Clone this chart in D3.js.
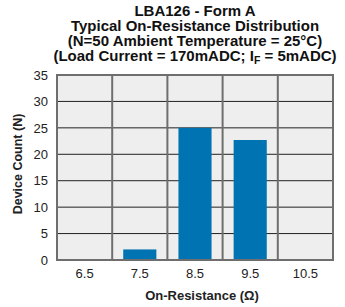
<!DOCTYPE html>
<html>
<head>
<meta charset="utf-8">
<script src="https://cdn.jsdelivr.net/npm/d3@7"></script>
<style>
  body { margin: 0; background: #fff; }
  text { font-family: "Liberation Sans", Arial, sans-serif; }
</style>
</head>
<body>
<div id="chart"></div>
<script>
var categories = ["6.5", "7.5", "8.5", "9.5", "10.5"];
var counts = [0, 2, 25, 22.7, 0];
var yTicks = [0, 5, 10, 15, 20, 25, 30, 35];

var width = 345, height = 307;
var margin = {top: 75, right: 12, bottom: 47, left: 57};

var svg = d3.select("#chart").append("svg")
    .attr("width", width)
    .attr("height", height);

var x = d3.scaleBand()
    .domain(categories)
    .range([margin.left, width - margin.right])
    .paddingInner(0)
    .paddingOuter(0);

var y = d3.scaleLinear()
    .domain([0, 35])
    .range([height - margin.bottom, margin.top]);

// plot background
svg.append("rect")
    .attr("x", margin.left)
    .attr("y", margin.top)
    .attr("width", width - margin.left - margin.right)
    .attr("height", height - margin.top - margin.bottom)
    .attr("fill", "#eeeeee");

// horizontal grid
svg.selectAll(".hgrid")
    .data(yTicks)
    .enter()
    .append("line")
    .attr("class", "hgrid")
    .attr("x1", margin.left)
    .attr("x2", width - margin.right)
    .attr("y1", function (d) { return y(d); })
    .attr("y2", function (d) { return y(d); })
    .style("stroke", "#222")
    .style("stroke-width", 1);

// vertical grid at band edges
var edges = categories.map(function (c) { return x(c); });
edges.push(width - margin.right);
svg.selectAll(".vgrid")
    .data(edges)
    .enter()
    .append("line")
    .attr("class", "vgrid")
    .attr("x1", function (d) { return d; })
    .attr("x2", function (d) { return d; })
    .attr("y1", margin.top)
    .attr("y2", height - margin.bottom)
    .style("stroke", "#6e6e6e")
    .style("stroke-width", 2);

// bars
var barW = x.bandwidth() * 0.6;
svg.selectAll(".bar")
    .data(categories)
    .enter()
    .append("rect")
    .attr("class", "bar")
    .attr("x", function (d) { return x(d) + (x.bandwidth() - barW) / 2; })
    .attr("width", barW)
    .attr("y", function (d, i) { return y(counts[i]); })
    .attr("height", function (d, i) { return y(0) - y(counts[i]); })
    .attr("fill", "#0073b2");

// frame
svg.append("rect")
    .attr("x", margin.left)
    .attr("y", margin.top)
    .attr("width", width - margin.left - margin.right)
    .attr("height", height - margin.top - margin.bottom)
    .attr("fill", "none")
    .style("stroke", "#6e6e6e")
    .style("stroke-width", 2);

// y axis labels
var yAxis = svg.append("g")
    .attr("transform", "translate(" + margin.left + ",0)")
    .call(d3.axisLeft(y).tickValues(yTicks).tickSize(0).tickPadding(9));
yAxis.select(".domain").remove();
yAxis.selectAll("text")
    .style("font-size", "13px")
    .style("font-family", "'Liberation Sans', Arial, sans-serif")
    .attr("fill", "#222");

// x axis labels
var xAxis = svg.append("g")
    .attr("transform", "translate(0," + (height - margin.bottom) + ")")
    .call(d3.axisBottom(x).tickSize(0).tickPadding(9));
xAxis.select(".domain").remove();
xAxis.selectAll("text")
    .style("font-size", "13px")
    .style("font-family", "'Liberation Sans', Arial, sans-serif")
    .attr("fill", "#222");

// axis titles
svg.append("text")
    .attr("x", 202)
    .attr("y", 300)
    .attr("text-anchor", "middle")
    .style("font-size", "13px")
    .style("font-weight", "bold")
    .attr("fill", "#222")
    .text("On-Resistance (\u03A9)");

svg.append("text")
    .attr("transform", "translate(22,164) rotate(-90)")
    .attr("text-anchor", "middle")
    .style("font-size", "12.5px")
    .style("font-weight", "bold")
    .attr("fill", "#222")
    .text("Device Count (N)");

// title
var titleLines = [
    "LBA126 - Form A",
    "Typical On-Resistance Distribution",
    "(N=50 Ambient Temperature = 25\u00B0C)"
];
var cx = 195;
svg.selectAll(".title")
    .data(titleLines)
    .enter()
    .append("text")
    .attr("class", "title")
    .attr("x", cx)
    .attr("y", function (d, i) { return 16 + i * 15; })
    .attr("text-anchor", "middle")
    .style("font-size", "15px")
    .style("font-weight", "bold")
    .attr("fill", "#111")
    .text(function (d) { return d; });

var t4 = svg.append("text")
    .attr("x", cx)
    .attr("y", 61)
    .attr("text-anchor", "middle")
    .style("font-size", "15px")
    .style("font-weight", "bold")
    .attr("fill", "#111");
t4.append("tspan").text("(Load Current = 170mADC; I");
t4.append("tspan").attr("dy", 3).style("font-size", "10.5px").text("F");
t4.append("tspan").attr("dy", -3).text(" = 5mADC)");
</script>
</body>
</html>
